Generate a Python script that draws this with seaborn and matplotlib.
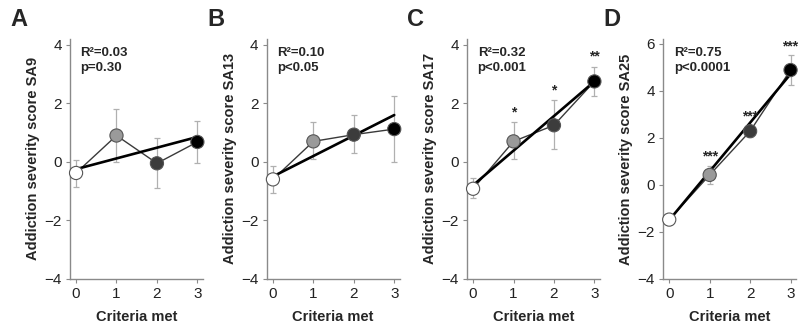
import numpy as np
import pandas as pd
import matplotlib
matplotlib.use("Agg")
import matplotlib.pyplot as plt
import seaborn as sns

sns.set_style("ticks")
plt.rcParams['font.family'] = ['Liberation Sans', 'DejaVu Sans']

criteria = [0, 1, 2, 3]
panel_letters = ['A', 'B', 'C', 'D']
scores = ['SA9', 'SA13', 'SA17', 'SA25']

# group means and error bar ends
means_a = [-0.38, 0.9, -0.05, 0.68]
low_a = [-0.85, 0.0, -0.9, -0.05]
high_a = [0.05, 1.8, 0.82, 1.4]

means_b = [-0.6, 0.7, 0.93, 1.12]
low_b = [-1.05, 0.1, 0.3, 0.0]
high_b = [-0.15, 1.35, 1.6, 2.25]

means_c = [-0.92, 0.7, 1.25, 2.75]
low_c = [-1.25, 0.1, 0.45, 2.25]
high_c = [-0.55, 1.35, 2.1, 3.25]

means_d = [-1.48, 0.42, 2.28, 4.88]
low_d = [-1.7, 0.05, 2.05, 4.25]
high_d = [-1.25, 0.8, 2.5, 5.5]

# regression fit (intercept, slope)
fit_a = (-0.25, 0.367)
fit_b = (-0.5, 0.7)
fit_c = (-0.8, 1.183)
fit_d = (-1.5, 2.07)

r2_text = ['R²=0.03\np=0.30', 'R²=0.10\np<0.05', 'R²=0.32\np<0.001', 'R²=0.75\np<0.0001']
stars_c = ['', '*', '*', '**']
stars_d = ['', '***', '***', '***']
no_stars = ['', '', '', '']

panels = [
    (means_a, low_a, high_a, fit_a, no_stars),
    (means_b, low_b, high_b, fit_b, no_stars),
    (means_c, low_c, high_c, fit_c, stars_c),
    (means_d, low_d, high_d, fit_d, stars_d),
]

marker_colors = ['white', '#9a9a9a', '#3c3c3c', 'black']
spine_col = '#8a8a8a'

fig = plt.figure(figsize=(7.99, 3.25), dpi=100)
lefts = [0.0876, 0.334, 0.5845, 0.83]

for i, (m, lo, hi, fit, stars) in enumerate(panels):
    ax = fig.add_axes([lefts[i], 0.142, 0.166, 0.738])
    df = pd.DataFrame({'criteria': criteria, 'mean': m})

    # error bars
    m_arr = np.array(m)
    yerr = [m_arr - np.array(lo), np.array(hi) - m_arr]
    ax.errorbar(criteria, m, yerr=yerr, fmt='none', ecolor='#b0b0b0',
                elinewidth=0.9, capsize=2.5, capthick=0.9, zorder=1)

    # connecting line
    sns.lineplot(data=df, x='criteria', y='mean', color='#3a3a3a', lw=1.0,
                 ax=ax, zorder=2)

    # regression line
    xr = np.array([0, 3])
    reg = pd.DataFrame({'x': xr, 'y': fit[0] + fit[1] * xr})
    sns.lineplot(data=reg, x='x', y='y', color='black', lw=1.9, ax=ax, zorder=3)

    # markers
    sns.scatterplot(data=df, x='criteria', y='mean', hue='criteria',
                    palette=marker_colors, s=90, edgecolor='#555555',
                    linewidth=0.8, legend=False, ax=ax, zorder=4, clip_on=False)

    for x, s, h in zip(criteria, stars, hi):
        if s:
            ax.text(x, h + 0.1, s, ha='center', va='bottom', fontsize=10,
                    fontweight='bold')

    top = 6.2 if i == 3 else 4.2
    ax.set_ylim(-4, top)
    ax.set_xlim(-0.15, 3.13)
    ax.set_yticks([-4, -2, 0, 2, 4, 6] if i == 3 else [-4, -2, 0, 2, 4])
    ax.set_xticks(criteria)
    ax.tick_params(length=3, width=0.8, color=spine_col, labelsize=11,
                   labelcolor='#222222', pad=3)
    sns.despine(ax=ax)
    for sp in ['left', 'bottom']:
        ax.spines[sp].set_color(spine_col)
        ax.spines[sp].set_linewidth(1.0)

    ax.set_xlabel('Criteria met', fontsize=10.5, fontweight='bold', labelpad=6)
    ax.set_ylabel('Addiction severity score ' + scores[i], fontsize=10.5,
                  fontweight='bold', labelpad=3)

    ax.text(0.08, 0.965, r2_text[i], transform=ax.transAxes, ha='left',
            va='top', fontsize=9.5, fontweight='bold', linespacing=1.25)

    fig.text(lefts[i] - 0.075, 0.975, panel_letters[i], fontsize=17,
             fontweight='bold', ha='left', va='top')

fig.savefig('out.png', dpi=100)
